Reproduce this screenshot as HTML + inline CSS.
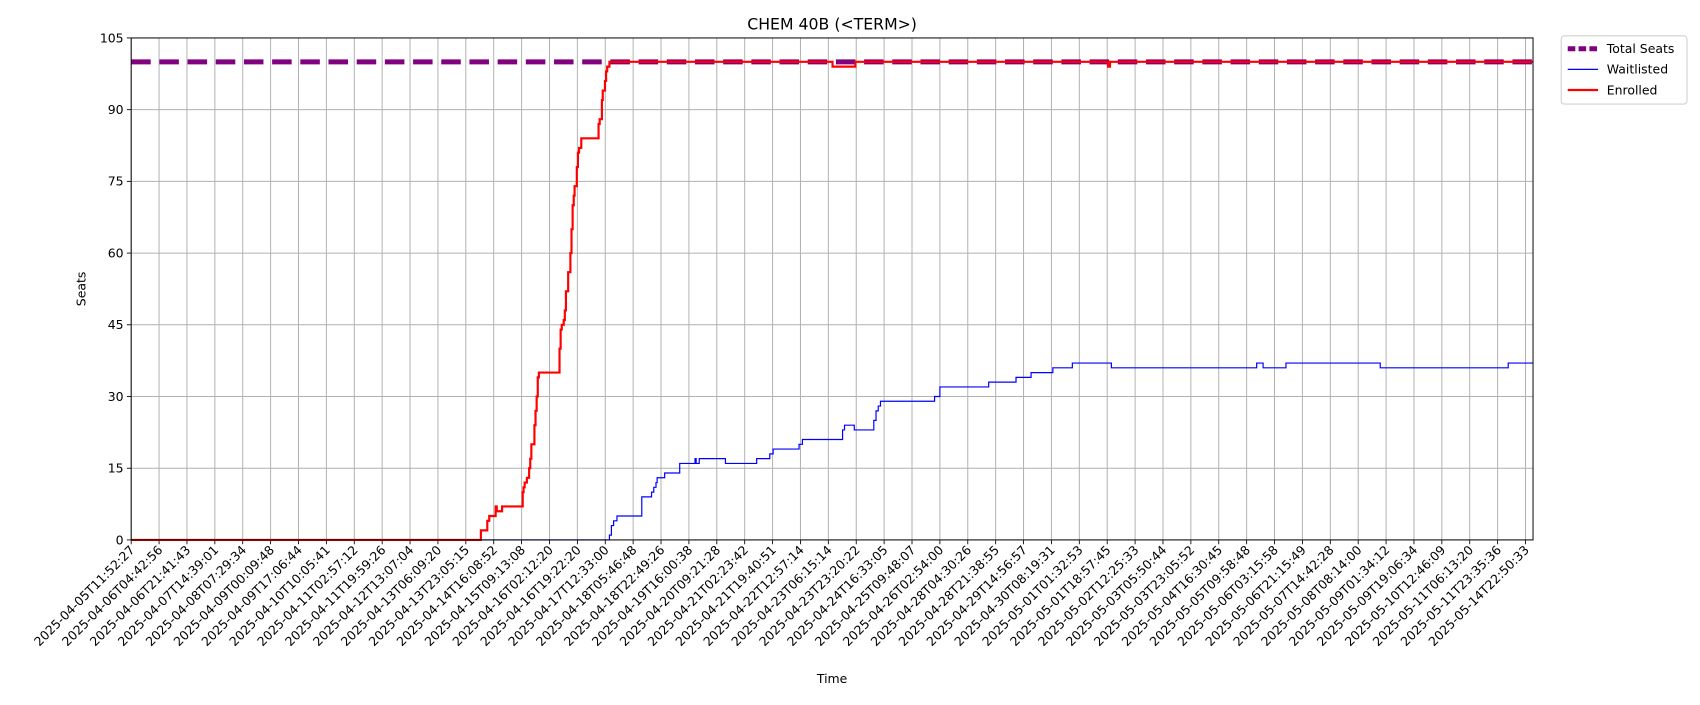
<!DOCTYPE html>
<html><head><meta charset="utf-8"><style>
body{margin:0;background:#fff;font-family:"Liberation Sans","DejaVu Sans",sans-serif}
svg text{font-family:"DejaVu Sans","Liberation Sans",sans-serif;fill:#000}
</style></head><body>
<svg id="chart" width="1700" height="700"><g id="root" transform="scale(1.08418)"></g></svg>
<script>
const tickLabels=["2025-04-05T11:52:27","2025-04-06T04:42:56","2025-04-06T21:41:43","2025-04-07T14:39:01","2025-04-08T07:29:34","2025-04-09T00:09:48","2025-04-09T17:06:44","2025-04-10T10:05:41","2025-04-11T02:57:12","2025-04-11T19:59:26","2025-04-12T13:07:04","2025-04-13T06:09:20","2025-04-13T23:05:15","2025-04-14T16:08:52","2025-04-15T09:13:08","2025-04-16T02:12:20","2025-04-16T19:22:20","2025-04-17T12:33:00","2025-04-18T05:46:48","2025-04-18T22:49:26","2025-04-19T16:00:38","2025-04-20T09:21:28","2025-04-21T02:23:42","2025-04-21T19:40:51","2025-04-22T12:57:14","2025-04-23T06:15:14","2025-04-23T23:20:22","2025-04-24T16:33:05","2025-04-25T09:48:07","2025-04-26T02:54:00","2025-04-28T04:30:26","2025-04-28T21:38:55","2025-04-29T14:56:57","2025-04-30T08:19:31","2025-05-01T01:32:53","2025-05-01T18:57:45","2025-05-02T12:25:33","2025-05-03T05:50:44","2025-05-03T23:05:52","2025-05-04T16:30:45","2025-05-05T09:58:48","2025-05-06T03:15:58","2025-05-06T21:15:49","2025-05-07T14:42:28","2025-05-08T08:14:00","2025-05-09T01:34:12","2025-05-09T19:06:34","2025-05-10T12:46:09","2025-05-11T06:13:20","2025-05-11T23:35:36","2025-05-14T22:50:33"];
const yTicks=[0,15,30,45,60,75,90,105];
const totalSeats=100;
// step series: x in tick-index units, y = seats
const enrolledX=[0,12.54,12.65,12.77,12.84,12.91,13.07,13.11,13.18,13.3,13.34,14.04,14.07,14.11,14.19,14.27,14.31,14.35,14.39,14.46,14.5,14.54,14.58,14.62,14.66,15.36,15.4,15.44,15.51,15.55,15.59,15.67,15.71,15.75,15.79,15.83,15.87,15.9,15.98,16.02,16.06,16.14,16.22,16.76,16.8,16.88,16.91,16.99,17.03,17.07,17.15,17.23,25.15,25.97,35.03,35.1,50.27];
const enrolledY=[0,2,2,4,5,5,7,6,6,7,7,10,11,12,13,15,17,20,20,24,27,30,34,35,35,40,44,45,46,48,52,56,56,60,65,70,72,74,78,81,82,84,84,87,88,92,94,96,98,99,100,100,99,100,99,100,100];
const waitX=[0,17.15,17.22,17.30,17.42,18.23,18.31,18.62,18.66,18.74,18.82,18.86,19.09,19.13,19.60,19.67,20.18,20.22,20.26,20.37,21.27,21.31,22.40,22.43,22.82,22.90,23.02,23.91,23.95,24.07,25.47,25.51,25.58,25.89,25.93,26.56,26.63,26.71,26.79,26.87,28.73,28.81,28.97,29.00,30.72,30.75,31.69,31.73,32.23,32.27,33.01,33.05,33.71,33.75,35.11,35.15,40.28,40.36,40.55,40.59,41.37,41.41,44.75,44.79,49.34,49.38,50.27];
const waitY=[0,1,3,4,5,5,9,9,10,11,12,13,13,14,14,16,16,17,16,17,17,16,16,17,17,18,19,19,20,21,21,23,24,24,23,23,25,27,28,29,29,30,30,32,32,33,33,34,34,35,35,36,36,37,37,36,36,37,37,36,36,37,37,36,36,37,37];

const NS="http://www.w3.org/2000/svg";
const svg=document.getElementById('root');
const L=121,R=1414,T=35,B=498,XMAX=50.27,YMAX=105;
const xs=v=>L+v/XMAX*(R-L);
const ys=v=>B-v/YMAX*(B-T);
function mk(tag,attrs,parent){const e=document.createElementNS(NS,tag);for(const k in attrs)e.setAttribute(k,attrs[k]);(parent||svg).appendChild(e);return e;}

const grid=mk('g',{});


tickLabels.forEach((t,i)=>{
  const x=xs(i);
  mk('line',{x1:x,x2:x,y1:T,y2:B,stroke:'#b0b0b0','stroke-width':0.9},grid);
  mk('line',{x1:x,x2:x,y1:B,y2:B+4,stroke:'#000','stroke-width':0.8},grid);
  const tx=mk('text',{x:0,y:0,'font-size':11.5,'text-anchor':'end',transform:`translate(${x+4},${B+10}) rotate(-45)`});
  tx.textContent=t;
  
  
});
yTicks.forEach(v=>{
  const y=ys(v);
  mk('line',{x1:L,x2:R,y1:y,y2:y,stroke:'#b0b0b0','stroke-width':0.9},grid);
  mk('line',{x1:L-4,x2:L,y1:y,y2:y,stroke:'#000','stroke-width':0.8},grid);
  const tx=mk('text',{x:L-7,y:y+4,'font-size':11.5,'text-anchor':'end'});
  tx.textContent=v;
  
  
});

function stepPath(X,Y){let d='';for(let i=0;i<X.length;i++){const x=xs(X[i]),y=ys(Y[i]);if(i===0)d+=`M${x},${y}`;else d+=`H${x}V${y}`;}return d;}

const total=mk('line',{x1:L,x2:R,y1:ys(totalSeats),y2:ys(totalSeats),stroke:'#800080','stroke-width':4.6,'stroke-dasharray':'18 8'});


const wl=mk('path',{d:stepPath(waitX,waitY),fill:'none',stroke:'#0000ff','stroke-width':1.1});


const en=mk('path',{d:stepPath(enrolledX,enrolledY),fill:'none',stroke:'#ff0000','stroke-width':2});



const frame=mk('rect',{x:L,y:T,width:R-L,height:B-T,fill:'none',stroke:'#000','stroke-width':0.9});



const title=mk('text',{x:(L+R)/2,y:27,'font-size':14.5,'text-anchor':'middle'});title.textContent='CHEM 40B (<TERM>)';


const xt=mk('text',{x:(L+R)/2,y:630,'font-size':11.5,'text-anchor':'middle'});xt.textContent='Time';


const yt=mk('text',{x:0,y:0,'font-size':11.5,'text-anchor':'middle',transform:`translate(79,${(T+B)/2}) rotate(-90)`});yt.textContent='Seats';



const lg=mk('g',{});


mk('rect',{x:1440,y:33,width:116,height:63,rx:3,fill:'#fff',stroke:'#d0d0d0'},lg);
const entries=[['Total Seats','#800080',4.6,'7 3'],['Waitlisted','#0000ff',1.1,''],['Enrolled','#ff0000',2,'']];
entries.forEach((e,i)=>{
  const y=45+i*19;
  const ln=mk('line',{x1:1446,x2:1474,y1:y,y2:y,stroke:e[1],'stroke-width':e[2],'stroke-dasharray':e[3]},lg);
  
  
  const tx=mk('text',{x:1482,y:y+4,'font-size':11.5},lg);tx.textContent=e[0];
  
  
});
</script>
</body></html>
